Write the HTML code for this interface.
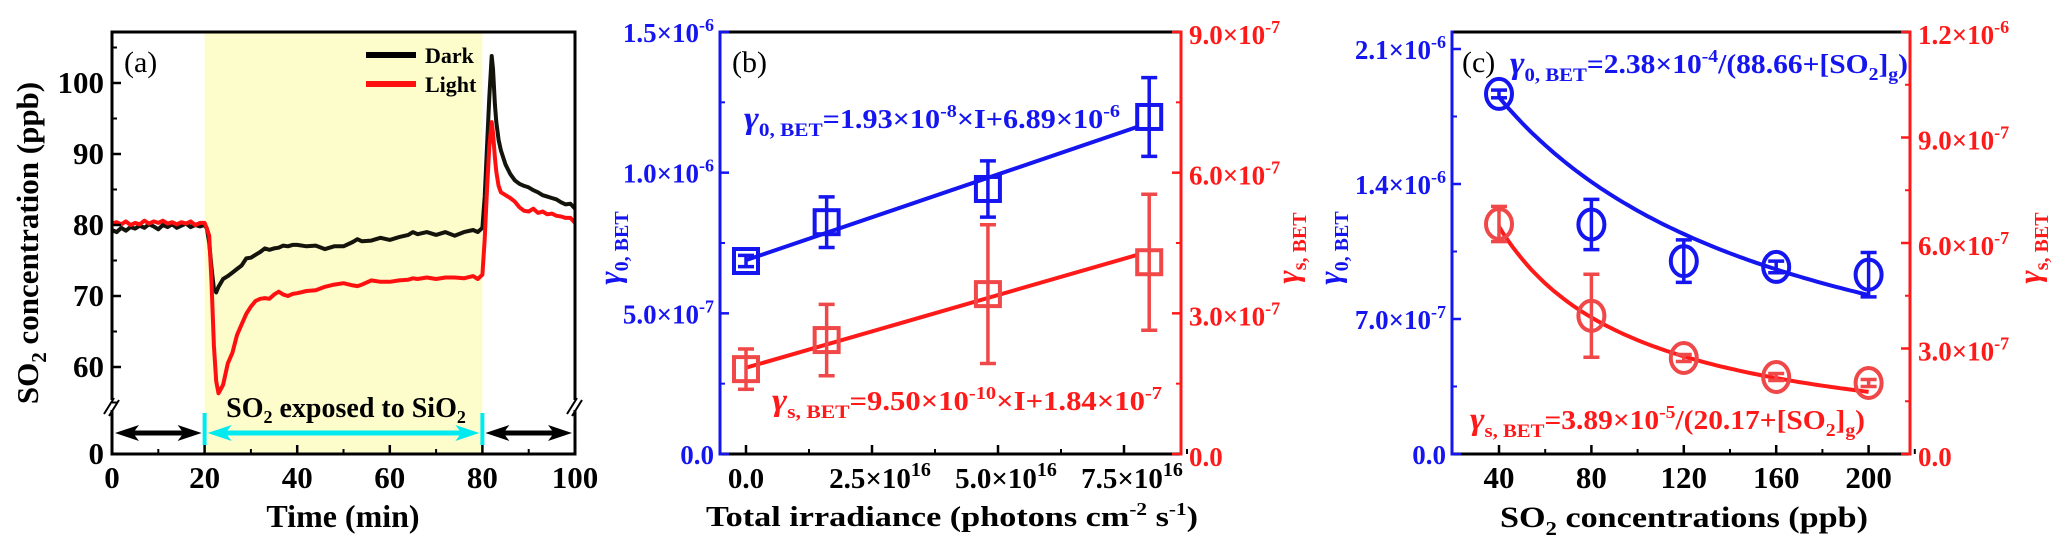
<!DOCTYPE html>
<html><head><meta charset="utf-8">
<style>
html,body{margin:0;padding:0;background:#fff;}
svg{display:block;font-family:"Liberation Serif",serif;}
</style></head>
<body>
<svg id="fig" width="2067" height="556" viewBox="0 0 2067 556" xmlns="http://www.w3.org/2000/svg"></svg>
<script>
// ---------- Panel (a) data ----------
const timeMin = [0,1,2,3,4,5,6,7,8,9,10,11,12,13,14,15,16,17,18,19,20,
 20.5,21,21.5,22,22.5,23,
 24,25,26,27,28,29,30,31,32,33,34,35,36,37,38,39,40,
 42,44,46,48,50,52,53,54,56,58,60,62,64,65,66,68,70,72,74,76,78,79,80,
 80.5,81,81.5,82,82.3,82.7,83,83.5,84,
 85,86,87,88,89,90,91,92,93,94,95,96,97,98,99,100];
const darkPpb = [79.3,79.0,79.6,79.2,79.7,79.5,79.9,79.6,80.1,79.8,79.4,80.0,79.7,80.1,79.6,79.9,80.2,79.7,80.0,79.8,80.0,
 79.5,77.5,74,71,70.5,71.3,
 72.4,72.8,73.3,73.8,74.3,75.3,75.4,75.8,76.2,76.7,76.5,76.7,76.8,77.1,77.0,77.2,77.2,
 77.0,77.1,76.6,77.0,77.0,77.6,78.0,77.7,77.8,78.2,77.9,78.3,78.6,79.0,78.7,79.0,78.6,79.0,78.5,79.0,79.3,79.0,79.6,
 84,91,98,103.8,102,97,94.5,92,90.5,
 88.5,87.2,86.3,85.8,85.5,85.3,84.9,84.6,84.2,84.0,83.8,83.6,83.2,82.9,83.0,82.3];
const lightPpb = [80.2,80.4,80.1,80.5,80.0,80.3,80.1,80.6,80.2,80.5,80.3,80.6,80.2,80.4,80.1,80.4,80.2,80.5,80.0,80.3,80.3,
 79.5,78.5,72,63,58,56.3,
 57.5,60.5,62,64.5,66,67.5,68.5,69.3,69.6,69.7,69.6,70.2,70.6,70.2,70.0,70.3,70.4,
 70.7,70.8,71.3,71.6,71.8,71.5,71.4,71.6,72.2,72.0,72.0,72.2,72.3,72.5,72.4,72.6,72.4,72.6,72.6,72.5,72.8,72.4,73.0,
 78,85,91,94.5,93,89.5,87.5,85.5,84.6,
 84.2,83.8,83.3,82.5,82.0,81.9,82.3,81.7,81.9,81.5,81.6,81.3,81.2,81.0,81.0,80.3];
const aXTicks = [0,20,40,60,80,100];
const aYTicks = [60,70,80,90,100];

// ---------- Panel (b) data ----------
const irrad = [0, 1.6, 4.8, 8.0];            // ×10^16
const gamma0B = [6.86e-7, 8.24e-7, 9.42e-7, 1.198e-6];
const gamma0BErr = [0.2e-7, 0.9e-7, 1.0e-7, 1.4e-7];
const gammaSB = [1.81e-7, 2.43e-7, 3.41e-7, 4.09e-7];
const gammaSBErr = [0.43e-7, 0.76e-7, 1.48e-7, 1.45e-7];
const fitB0 = [6.89e-7, 0.61e-7];
const fitBS = [1.84e-7, 0.31e-7];
const bXTicks = [0, 2.5, 5.0, 7.5];
const bXLabels = ["0.0","2.5","5.0","7.5"];
const bLTicks = [0, 5e-7, 1e-6, 1.5e-6];
const bLLabels = [["0.0",""],["5.0","-7"],["1.0","-6"],["1.5","-6"]];
const bRTicks = [0, 3e-7, 6e-7, 9e-7];
const bRLabels = [["0.0",""],["3.0","-7"],["6.0","-7"],["9.0","-7"]];

// ---------- Panel (c) data ----------
const so2 = [40, 80, 120, 160, 200];
const gamma0C = [1.867e-6, 1.19e-6, 1.0e-6, 9.7e-7, 9.3e-7];
const gamma0CErr = [0.2e-7, 1.3e-7, 1.1e-7, 0.3e-7, 1.15e-7];
const gammaSC = [6.54e-7, 3.93e-7, 2.73e-7, 2.19e-7, 2.02e-7];
const gammaSCErr = [0.5e-7, 1.18e-7, 0.1e-7, 0.1e-7, 0.1e-7];
const fitC0 = [2.38e-4, 88.66];
const fitCS = [3.89e-5, 20.17];
const cXTicks = [40, 80, 120, 160, 200];
const cLTicks = [0, 7e-7, 1.4e-6, 2.1e-6];
const cLLabels = [["0.0",""],["7.0","-7"],["1.4","-6"],["2.1","-6"]];
const cRTicks = [0, 3e-7, 6e-7, 9e-7, 1.2e-6];
const cRLabels = [["0.0",""],["3.0","-7"],["6.0","-7"],["9.0","-7"],["1.2","-6"]];

const NS = "http://www.w3.org/2000/svg";
const svg = document.getElementById('fig');
const BLUE = "#1515f0", RED = "#ff1a1a", RED2 = "#f04848";
const TS = 27;
function mk(tag, attrs, parent) {
  const el = document.createElementNS(NS, tag);
  for (const k in attrs) el.setAttribute(k, attrs[k]);
  (parent || svg).appendChild(el);
  return el;
}
function txt(x, y, html, size, color, anchor, extra) {
  const el = mk('text', Object.assign({x: x, y: y, 'font-size': size, fill: color, 'text-anchor': anchor || 'middle', 'font-weight': 'bold'}, extra || {}));
  el.innerHTML = html;
  return el;
}
function sci(m, e, sz) {
  if (!e) return m;
  return m + '×10<tspan dy="-' + Math.round(sz*0.42) + '" font-size="' + Math.round(sz*0.68) + '">' + e + '</tspan>';
}
const GAM = '<tspan font-style="italic" font-weight="bold" font-size="32">γ</tspan>';

// =============== PANEL A ===============
const aL = 112, aR = 575, aT = 32, aB = 454;
const ax = t => aL + (t / 100) * (aR - aL);
const ay = v => 225 - (v - 80) * 7.1;

let el;
el = mk('rect', {x: ax(20), y: aT, width: ax(80) - ax(20), height: aB - aT, fill: '#fdfccb'});



function seriesPath(vals, color) {
  let d = '';
  timeMin.forEach((t, i) => { d += (i ? 'L' : 'M') + ax(t).toFixed(1) + ',' + ay(vals[i]).toFixed(1); });
  return mk('path', {d: d, fill: 'none', stroke: color, 'stroke-width': 4, 'stroke-linejoin': 'round'});
}
el = seriesPath(darkPpb, '#14140c');


el = seriesPath(lightPpb, '#ff1010');



el = mk('rect', {x: aL, y: aT, width: aR - aL, height: aB - aT, fill: 'none', stroke: '#000', 'stroke-width': 3});


[aL, aR].forEach((xx, i) => {
  const g = mk('g', {});
  
  
  mk('rect', {x: xx - 4, y: 400, width: 8, height: 10, fill: '#fff'}, g);
  mk('line', {x1: xx - 8, y1: 414, x2: xx + 2, y2: 398, stroke: '#000', 'stroke-width': 2}, g);
  mk('line', {x1: xx - 3, y1: 416, x2: xx + 7, y2: 400, stroke: '#000', 'stroke-width': 2}, g);
});
aYTicks.forEach(v => {
  el = mk('line', {x1: aL, y1: ay(v), x2: aL + 9, y2: ay(v), stroke: '#000', 'stroke-width': 2.5});
  
  
  el = mk('line', {x1: aL, y1: ay(v - 5), x2: aL + 5, y2: ay(v - 5), stroke: '#000', 'stroke-width': 2});
  
  
  el = txt(aL - 8, ay(v) + 10, String(v), 31, '#000', 'end');
  
  
});
el = mk('line', {x1: aL, y1: ay(105), x2: aL + 5, y2: ay(105), stroke: '#000', 'stroke-width': 2});


el = txt(aL - 8, aB + 10, '0', 31, '#000', 'end');


aXTicks.forEach(t => {
  el = mk('line', {x1: ax(t), y1: aB, x2: ax(t), y2: aB - 9, stroke: '#000', 'stroke-width': 2.5});
  
  
  if (t < 100) {
    el = mk('line', {x1: ax(t + 10), y1: aB, x2: ax(t + 10), y2: aB - 5, stroke: '#000', 'stroke-width': 2});
    
    
  }
  el = txt(ax(t), 488, String(t), 31, '#000', 'middle');
  
  
});
el = txt(343, 527, 'Time (min)', 32, '#000', 'middle');


el = txt(0, 0, 'SO<tspan dy="8" font-size="21">2</tspan><tspan dy="-8"> concentration (ppb)</tspan>', 31, '#000', 'middle', {transform: 'translate(38,243) rotate(-90)'});


el = txt(124, 72, '(a)', 30, '#000', 'start', {'font-weight': 'normal'});


el = mk('line', {x1: 366, y1: 55, x2: 416, y2: 55, stroke: '#000', 'stroke-width': 6});


el = txt(425, 63, 'Dark', 22, '#000', 'start');


el = mk('line', {x1: 366, y1: 84, x2: 416, y2: 84, stroke: '#ff1010', 'stroke-width': 6});


el = txt(425, 92, 'Light', 22, '#000', 'start');


function dblArrow(x1, x2, y, color, name) {
  const g = mk('g', {});
  
  
  mk('line', {x1: x1 + 14, y1: y, x2: x2 - 14, y2: y, stroke: color, 'stroke-width': 5}, g);
  mk('polygon', {points: `${x1},${y} ${x1+24},${y-8} ${x1+18},${y} ${x1+24},${y+8}`, fill: color}, g);
  mk('polygon', {points: `${x2},${y} ${x2-24},${y-8} ${x2-18},${y} ${x2-24},${y+8}`, fill: color}, g);
  return g;
}
dblArrow(ax(0) + 3, ax(20) - 3, 433, '#000', 'pre-exposure-arrow');
dblArrow(ax(20) + 3, ax(80) - 3, 433, '#00eaf0', 'exposure-arrow');
dblArrow(ax(80) + 3, ax(100) - 3, 433, '#000', 'post-exposure-arrow');
[20, 80].forEach(t => {
  el = mk('line', {x1: ax(t), y1: 413, x2: ax(t), y2: 445, stroke: '#00eaf0', 'stroke-width': 4});
  
  
});
el = txt(346, 417, 'SO<tspan dy="6" font-size="18">2</tspan><tspan dy="-6"> exposed to SiO</tspan><tspan dy="6" font-size="18">2</tspan>', 28, '#000', 'middle');



function dualPanel(o) {
  const {L, R, T, B} = o;
  el = mk('line', {x1: L, y1: T, x2: R, y2: T, stroke: '#000', 'stroke-width': 3});
  
  
  el = mk('line', {x1: L, y1: B, x2: R, y2: B, stroke: '#000', 'stroke-width': 3});
  
  
  el = mk('line', {x1: L, y1: T - 1.5, x2: L, y2: B + 1.5, stroke: BLUE, 'stroke-width': 3});
  
  
  el = mk('line', {x1: R, y1: T - 1.5, x2: R, y2: B + 1.5, stroke: RED, 'stroke-width': 3});
  
  
}
function errBar(x, y1, y2, color, w) {
  const g = mk('g', {stroke: color, 'stroke-width': 3.5, fill: 'none'});
  mk('line', {x1: x, y1: y1, x2: x, y2: y2}, g);
  mk('line', {x1: x - w, y1: y1, x2: x + w, y2: y1}, g);
  mk('line', {x1: x - w, y1: y2, x2: x + w, y2: y2}, g);
  return g;
}

// =============== PANEL B ===============
const bL = 720, bR = 1181, bT = 32, bB = 454;
const bx = v => 746 + v * (126 / 2.5);
const byL = v => bB - v / 1.5e-6 * (bB - bT);
const byR = v => bB - v / 9e-7 * (bB - bT);
dualPanel({L: bL, R: bR, T: bT, B: bB, id: 'panel-b'});
bXTicks.forEach((v, i) => {
  el = mk('line', {x1: bx(v), y1: bB, x2: bx(v), y2: bB - 9, stroke: '#000', 'stroke-width': 2.5});
  
  
  el = mk('line', {x1: bx(v + 1.25), y1: bB, x2: bx(v + 1.25), y2: bB - 5, stroke: '#000', 'stroke-width': 2});
  
  
  el = txt(bx(v) + (i ? 8 : 0), 488, i ? sci(bXLabels[i], '16', 29) : bXLabels[i], 29, '#000', 'middle');
  
  
});
bLTicks.forEach((v, i) => {
  el = mk('line', {x1: bL, y1: byL(v), x2: bL + 9, y2: byL(v), stroke: BLUE, 'stroke-width': 2.5});
  
  
  if (i < 3) {
    el = mk('line', {x1: bL, y1: byL(v + 2.5e-7), x2: bL + 5, y2: byL(v + 2.5e-7), stroke: BLUE, 'stroke-width': 2});
    
    
  }
  el = txt(bL - 6, byL(v) + 10, sci(bLLabels[i][0], bLLabels[i][1], TS), TS, BLUE, 'end');
  
  
});
bRTicks.forEach((v, i) => {
  el = mk('line', {x1: bR, y1: byR(v), x2: bR - 9, y2: byR(v), stroke: RED, 'stroke-width': 2.5});
  
  
  if (i < 3) {
    el = mk('line', {x1: bR, y1: byR(v + 1.5e-7), x2: bR - 5, y2: byR(v + 1.5e-7), stroke: RED, 'stroke-width': 2});
    
    
  }
  el = txt(bR + 8, byR(v) + 12, sci(bRLabels[i][0], bRLabels[i][1], TS), TS, RED, 'start');
  
  
});
el = mk('line', {x1: bx(0), y1: byL(fitB0[0]), x2: bx(7.75), y2: byL(fitB0[0] + fitB0[1] * 7.75), stroke: BLUE, 'stroke-width': 4});


el = mk('line', {x1: bx(0), y1: byR(fitBS[0]), x2: bx(7.75), y2: byR(fitBS[0] + fitBS[1] * 7.75), stroke: RED, 'stroke-width': 4});


irrad.forEach((v, i) => {
  el = errBar(bx(v), byL(gamma0B[i] + gamma0BErr[i]), byL(gamma0B[i] - gamma0BErr[i]), BLUE, 8);
  
  
  el = mk('rect', {x: bx(v) - 12, y: byL(gamma0B[i]) - 12, width: 24, height: 24, fill: 'none', stroke: BLUE, 'stroke-width': 4});
  
  
  el = errBar(bx(v), byR(gammaSB[i] + gammaSBErr[i]), byR(gammaSB[i] - gammaSBErr[i]), RED2, 8);
  
  
  el = mk('rect', {x: bx(v) - 12, y: byR(gammaSB[i]) - 12, width: 24, height: 24, fill: 'none', stroke: RED2, 'stroke-width': 4});
  
  
});
el = txt(744, 128, GAM + '<tspan dy="8" font-size="19">0, BET</tspan><tspan dy="-8">=1.93×10</tspan><tspan dy="-11" font-size="18">-8</tspan><tspan dy="11">×I+6.89×10</tspan><tspan dy="-11" font-size="18">-6</tspan>', 27, BLUE, 'start', {textLength: 376, lengthAdjust: 'spacingAndGlyphs'});


el = txt(772, 410, GAM + '<tspan dy="8" font-size="19">s, BET</tspan><tspan dy="-8">=9.50×10</tspan><tspan dy="-11" font-size="18">-10</tspan><tspan dy="11">×I+1.84×10</tspan><tspan dy="-11" font-size="18">-7</tspan>', 27, RED, 'start', {textLength: 390, lengthAdjust: 'spacingAndGlyphs'});


el = txt(722, 72, '(b)', 30, '#000', 'start', {'font-weight': 'normal', dx: 10});


el = txt(952, 526, 'Total irradiance (photons cm<tspan dy="-11" font-size="18">-2</tspan><tspan dy="11"> s</tspan><tspan dy="-11" font-size="18">-1</tspan><tspan dy="11">)</tspan>', 29, '#000', 'middle', {textLength: 492, lengthAdjust: 'spacingAndGlyphs'});


el = txt(0, 0, GAM + '<tspan dy="8" font-size="20">0, BET</tspan>', 27, BLUE, 'middle', {transform: 'translate(620,248) rotate(-90)'});


el = txt(0, 0, GAM + '<tspan dy="8" font-size="20">s, BET</tspan>', 27, RED, 'middle', {transform: 'translate(1298,248) rotate(-90)'});



// =============== PANEL C ===============
const cL = 1452, cR = 1910, cT = 32, cB = 454;
const cx = v => 1499 + (v - 40) * (92.4 / 40);
const cyL = v => cB - v / 7e-7 * 135;
const cyR = v => cB - v / 1.2e-6 * (cB - cT);
dualPanel({L: cL, R: cR, T: cT, B: cB, id: 'panel-c'});
cXTicks.forEach(v => {
  el = mk('line', {x1: cx(v), y1: cB, x2: cx(v), y2: cB - 9, stroke: '#000', 'stroke-width': 2.5});
  
  
  el = mk('line', {x1: cx(v + 20), y1: cB, x2: cx(v + 20), y2: cB - 5, stroke: '#000', 'stroke-width': 2});
  
  
  el = txt(cx(v), 488, String(v), 31, '#000', 'middle');
  
  
});
cLTicks.forEach((v, i) => {
  el = mk('line', {x1: cL, y1: cyL(v), x2: cL + 9, y2: cyL(v), stroke: BLUE, 'stroke-width': 2.5});
  
  
  el = mk('line', {x1: cL, y1: cyL(v + 3.5e-7), x2: cL + 5, y2: cyL(v + 3.5e-7), stroke: BLUE, 'stroke-width': 2});
  
  
  el = txt(cL - 6, cyL(v) + 10, sci(cLLabels[i][0], cLLabels[i][1], TS), TS, BLUE, 'end');
  
  
});
cRTicks.forEach((v, i) => {
  el = mk('line', {x1: cR, y1: cyR(v), x2: cR - 9, y2: cyR(v), stroke: RED, 'stroke-width': 2.5});
  
  
  if (i < 4) {
    el = mk('line', {x1: cR, y1: cyR(v + 1.5e-7), x2: cR - 5, y2: cyR(v + 1.5e-7), stroke: RED, 'stroke-width': 2});
    
    
  }
  el = txt(cR + 8, cyR(v) + 12, sci(cRLabels[i][0], cRLabels[i][1], TS), TS, RED, 'start');
  
  
});
let d0 = '', dS = '';
for (let s = 40; s <= 200; s += 2) {
  d0 += (s === 40 ? 'M' : 'L') + cx(s).toFixed(1) + ',' + cyL(fitC0[0] / (fitC0[1] + s)).toFixed(1);
  dS += (s === 40 ? 'M' : 'L') + cx(s).toFixed(1) + ',' + cyR(fitCS[0] / (fitCS[1] + s)).toFixed(1);
}
el = mk('path', {d: d0, fill: 'none', stroke: BLUE, 'stroke-width': 4});


el = mk('path', {d: dS, fill: 'none', stroke: RED, 'stroke-width': 4});


so2.forEach((v, i) => {
  el = errBar(cx(v), cyL(gamma0C[i] + gamma0CErr[i]), cyL(gamma0C[i] - gamma0CErr[i]), BLUE, 8);
  
  
  el = mk('ellipse', {cx: cx(v), cy: cyL(gamma0C[i]), rx: 13, ry: 15, fill: 'none', stroke: BLUE, 'stroke-width': 4});
  
  
  el = errBar(cx(v), cyR(gammaSC[i] + gammaSCErr[i]), cyR(gammaSC[i] - gammaSCErr[i]), RED2, 8);
  
  
  el = mk('ellipse', {cx: cx(v), cy: cyR(gammaSC[i]), rx: 13, ry: 15, fill: 'none', stroke: RED2, 'stroke-width': 4});
  
  
});
el = txt(1462, 72, '(c)', 30, '#000', 'start', {'font-weight': 'normal'});


el = txt(1510, 73, GAM + '<tspan dy="8" font-size="19">0, BET</tspan><tspan dy="-8">=2.38×10</tspan><tspan dy="-11" font-size="18">-4</tspan><tspan dy="11">/(88.66+[SO</tspan><tspan dy="7" font-size="18">2</tspan><tspan dy="-7">]</tspan><tspan dy="7" font-size="18">g</tspan><tspan dy="-7">)</tspan>', 27, BLUE, 'start', {textLength: 398, lengthAdjust: 'spacingAndGlyphs'});


el = txt(1470, 429, GAM + '<tspan dy="8" font-size="19">s, BET</tspan><tspan dy="-8">=3.89×10</tspan><tspan dy="-11" font-size="18">-5</tspan><tspan dy="11">/(20.17+[SO</tspan><tspan dy="7" font-size="18">2</tspan><tspan dy="-7">]</tspan><tspan dy="7" font-size="18">g</tspan><tspan dy="-7">)</tspan>', 27, RED, 'start', {textLength: 395, lengthAdjust: 'spacingAndGlyphs'});


el = txt(1684, 527, 'SO<tspan dy="8" font-size="20">2</tspan><tspan dy="-8"> concentrations (ppb)</tspan>', 30, '#000', 'middle', {textLength: 368, lengthAdjust: 'spacingAndGlyphs'});


el = txt(0, 0, GAM + '<tspan dy="8" font-size="20">0, BET</tspan>', 27, BLUE, 'middle', {transform: 'translate(1340,248) rotate(-90)'});


el = txt(0, 0, GAM + '<tspan dy="8" font-size="20">s, BET</tspan>', 27, RED, 'middle', {transform: 'translate(2040,248) rotate(-90)'});


</script>
</body></html>
